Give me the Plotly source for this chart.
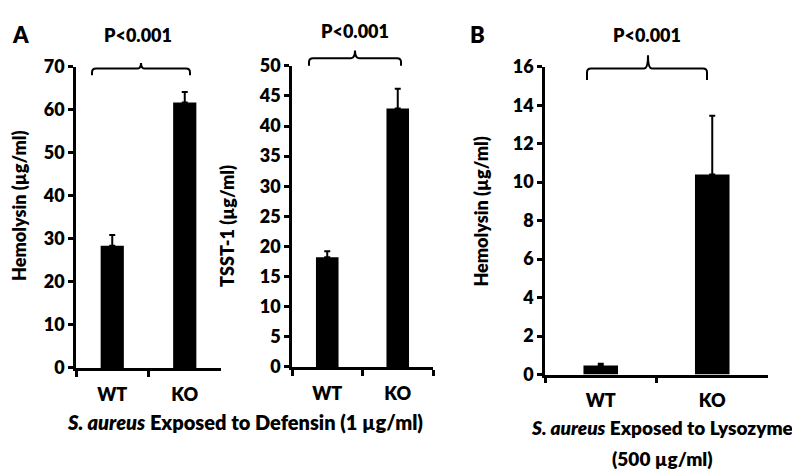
import plotly.graph_objects as go

W, H = 800, 471

categories = ["WT", "KO"]

hemolysin_defensin = [28.4, 61.7]
hemolysin_defensin_err = [2.5, 2.4]

tsst1_defensin = [18.2, 42.9]
tsst1_defensin_err = [1.0, 3.3]

hemolysin_lysozyme = [0.48, 10.4]
hemolysin_lysozyme_err = [0.08, 3.05]

y1_ticks = [0, 10, 20, 30, 40, 50, 60, 70]
y2_ticks = [0, 5, 10, 15, 20, 25, 30, 35, 40, 45, 50]
y3_ticks = [0, 2, 4, 6, 8, 10, 12, 14, 16]

p_label = "P<0.001"

FONT = "Lato"
WEIGHT = 800


def px(x):
    return x / W


def py(y):
    return 1 - y / H


fig = go.Figure()

panels = [
    (hemolysin_defensin, hemolysin_defensin_err, "x", "y", 0.32),
    (tsst1_defensin, tsst1_defensin_err, "x2", "y2", 0.32),
    (hemolysin_lysozyme, hemolysin_lysozyme_err, "x3", "y3", 0.31),
]
for vals, errs, xa, ya, bw in panels:
    fig.add_trace(go.Bar(
        x=categories, y=vals, xaxis=xa, yaxis=ya, width=bw,
        marker=dict(color="black", line=dict(width=0)),
        error_y=dict(type="data", symmetric=False, array=errs,
                     arrayminus=[0] * len(errs), color="black",
                     thickness=2, width=3),
        showlegend=False,
    ))

ytickfont = dict(family=FONT, size=18, color="black", weight=WEIGHT)
xtickfont = dict(family=FONT, size=18, color="black", weight=WEIGHT)


def xaxis(dom, anchor, standoff):
    return dict(domain=dom, anchor=anchor, type="category", range=[-0.5, 1.5],
                showline=True, linecolor="black", linewidth=2.5,
                ticks="outside", tickson="boundaries", ticklen=6,
                tickwidth=2.5, tickcolor="black", tickfont=xtickfont,
                ticklabelstandoff=standoff, showgrid=False, zeroline=False,
                fixedrange=True)


def yaxis(dom, anchor, rng, tv):
    return dict(domain=dom, anchor=anchor, range=rng, tickvals=tv,
                showline=True, linecolor="black", linewidth=2.5,
                ticks="outside", ticklen=5, tickwidth=2.5, tickcolor="black",
                tickfont=ytickfont, showgrid=False, zeroline=False,
                fixedrange=True)


fig.update_layout(
    width=W, height=H,
    margin=dict(l=0, r=0, t=0, b=0),
    paper_bgcolor="white", plot_bgcolor="white",
    xaxis=xaxis([px(68), px(213)], "y", 9),
    yaxis=yaxis([py(365), py(49)], "x", [0, 70], y1_ticks),
    xaxis2=xaxis([px(284), px(425)], "y2", 9),
    yaxis2=yaxis([py(364), py(48)], "x2", [0, 50], y2_ticks),
    xaxis3=xaxis([px(537), px(760)], "y3", 8),
    yaxis3=yaxis([py(372), py(49)], "x3", [0, 16], y3_ticks),
)


def bracket(x1, x2, xm, yh, yend, ytop, r=4):
    path = (f"M {px(x1)},{py(yend)} L {px(x1)},{py(yh + r)} "
            f"Q {px(x1)},{py(yh)} {px(x1 + r)},{py(yh)} "
            f"L {px(xm - r)},{py(yh)} Q {px(xm)},{py(yh)} {px(xm)},{py(ytop)} "
            f"Q {px(xm)},{py(yh)} {px(xm + r)},{py(yh)} "
            f"L {px(x2 - r)},{py(yh)} Q {px(x2)},{py(yh)} {px(x2)},{py(yh + r)} "
            f"L {px(x2)},{py(yend)}")
    fig.add_shape(type="path", path=path, xref="paper", yref="paper",
                  line=dict(color="black", width=2))


bracket(84, 182, 133, 51, 58, 45)
bracket(301, 393, 347, 40, 48, 32)
bracket(579, 699, 640, 51, 63, 37)

bold = dict(family=FONT, color="black", weight=WEIGHT)


def text(x, y, s, size, angle=0):
    fig.add_annotation(x=px(x), y=py(y), xref="paper", yref="paper",
                       text=s, showarrow=False, textangle=angle,
                       font=dict(size=size, **bold),
                       xanchor="center", yanchor="middle", borderpad=0)


text(130, 16, p_label, 18)
text(347, 12, p_label, 18)
text(639, 16, p_label, 18)
text(12, 15, "A", 22)
text(469, 15, "B", 22)

text(11, 195, "Hemolysin (µg/ml)", 18, -90)
text(219, 216, "TSST-1 (µg/ml)", 18, -90)
text(473, 201, "Hemolysin (µg/ml)", 18, -90)

text(237, 422, "<i>S. aureus</i> Exposed to Defensin (1 µg/ml)", 20)
text(654, 427, "<i>S. aureus</i> Exposed to Lysozyme", 19)
text(654, 460, "(500 µg/ml)", 19)

fig.write_html("out.html")
